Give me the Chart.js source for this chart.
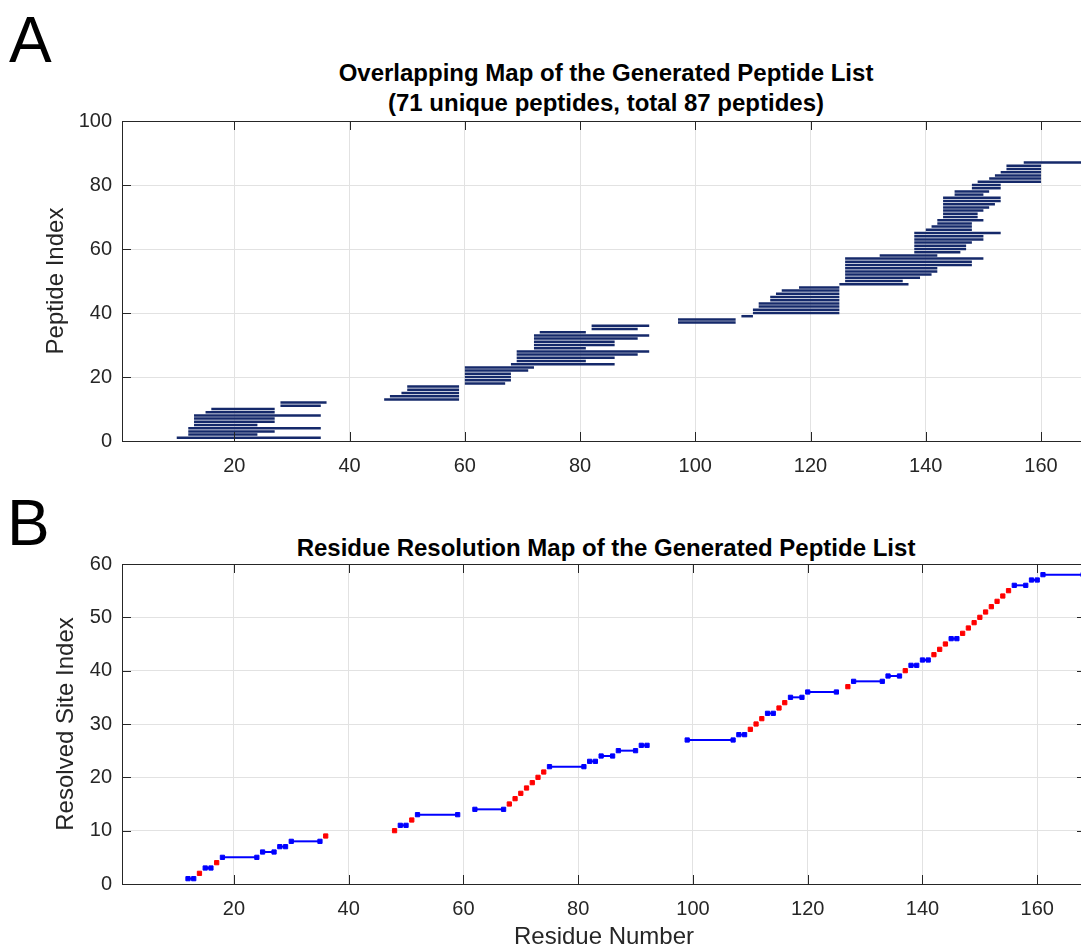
<!DOCTYPE html>
<html lang="en">
<head>
<meta charset="UTF-8">
<title>Peptide Overlap and Residue Resolution Maps</title>
<script src="https://cdn.jsdelivr.net/npm/chart.js"></script>
<style>
    body {
        margin: 0;
        background: #fff;
        overflow: hidden;
        font-family: "Liberation Sans", Arial, sans-serif;
    }
    #page {
        position: relative;
        width: 1081px;
        height: 949px;
        overflow: hidden;
    }
    .letter {
        position: absolute;
        font-size: 64px;
        line-height: 64px;
        color: #000;
    }
    .title {
        position: absolute;
        left: 122px;
        width: 968px;
        text-align: center;
        font-weight: bold;
        font-size: 24px;
        line-height: 30px;
        color: #000;
    }
    canvas {
        position: absolute;
        left: 0;
    }
</style>
</head>
<body>
<div id="page">
    <div class="letter" style="left:9px; top:8px;">A</div>
    <div class="title" style="top:58px;">Overlapping Map of the Generated Peptide List<br>(71 unique peptides, total 87 peptides)</div>
    <canvas id="chartA" width="1091" height="480" style="top:0;"></canvas>

    <div class="letter" style="left:7px; top:491px;">B</div>
    <div class="title" style="top:533px;">Residue Resolution Map of the Generated Peptide List</div>
    <canvas id="chartB" width="1091" height="472" style="top:480px;"></canvas>
</div>
<script>
    // peptide k (1-based) runs from pepStart[k-1] to pepEnd[k-1]
    const pepStart = [10, 12, 12, 12, 13, 13, 13, 13, 15, 16, 28, 28,
        46, 47, 49, 50, 50, 60, 60, 60, 60, 60, 60, 68, 69, 69, 69, 69,
        72, 72, 72, 72, 72, 73, 82, 82,
        97, 97, 108, 110, 110, 111, 111, 113, 113, 114, 115, 118,
        125, 126, 126, 126, 126, 126, 126, 126, 126, 132,
        138, 138, 138, 138, 138, 138, 138, 140, 141, 142, 142,
        143, 143, 143, 143, 143, 143, 143, 145, 145, 148, 148,
        149, 151, 152, 153, 154, 154, 157];
    const pepEnd = [35, 24, 27, 35, 24, 27, 27, 35, 27, 27, 35, 36,
        59, 59, 59, 59, 59, 67, 68, 68, 68, 71, 72, 86, 81, 86, 90, 92,
        81, 86, 86, 90, 92, 81, 90, 92,
        107, 107, 110, 125, 125, 125, 125, 125, 125, 125, 125, 125,
        137, 136, 139, 141, 142, 142, 148, 148, 150, 142,
        146, 147, 147, 148, 150, 150, 153, 148, 148, 148, 150,
        149, 149, 150, 151, 152, 153, 153, 150, 151, 153, 153,
        160, 160, 160, 160, 160, 160, 168];

    // resolved site j (1-based) covers residues siteStart..siteEnd
    const siteStart = [12, 14, 15, 17, 18, 25, 28, 30, 36, 48, 49, 51, 52, 62,
        68, 69, 70, 71, 72, 73, 74, 75, 82, 84, 87, 91,
        99, 108, 110, 111, 112, 113, 115, 116, 117, 120, 127, 128, 134, 137,
        138, 140, 142, 143, 144, 145, 147, 148, 149, 150, 151, 152, 153, 154, 155,
        156, 159, 161];
    const siteEnd = [13, 14, 16, 17, 24, 27, 29, 35, 36, 48, 50, 51, 59, 67,
        68, 69, 70, 71, 72, 73, 74, 81, 83, 86, 90, 92,
        107, 109, 110, 111, 112, 114, 115, 116, 119, 125, 127, 133, 136, 137,
        139, 141, 142, 143, 144, 146, 147, 148, 149, 150, 151, 152, 153, 154, 155,
        158, 160, 168];

    const xTicks = [20, 40, 60, 80, 100, 120, 140, 160];
    const yTicksA = [0, 20, 40, 60, 80, 100];
    const yTicksB = [0, 10, 20, 30, 40, 50, 60];

    const axisColor = '#262626';
    const gridColor = '#e2e2e2';
    const tickFont = { family: 'Liberation Sans', size: 20 };
    const labelFont = { family: 'Liberation Sans', size: 24 };

    // MATLAB-like box with inward tick marks on all four sides
    const boxTicks = {
        id: 'boxTicks',
        afterDraw(chart) {
            const { ctx, chartArea: a, scales } = chart;
            const len = 9;
            ctx.save();
            ctx.strokeStyle = axisColor;
            ctx.lineWidth = 1;
            ctx.beginPath();
            scales.x.ticks.forEach(t => {
                const px = Math.round(scales.x.getPixelForValue(t.value)) + 0.5;
                ctx.moveTo(px, a.bottom); ctx.lineTo(px, a.bottom - len);
                ctx.moveTo(px, a.top); ctx.lineTo(px, a.top + len);
            });
            scales.y.ticks.forEach(t => {
                const py = Math.round(scales.y.getPixelForValue(t.value)) + 0.5;
                ctx.moveTo(a.left, py); ctx.lineTo(a.left + len, py);
                ctx.moveTo(a.right, py); ctx.lineTo(a.right - len, py);
            });
            ctx.stroke();
            ctx.strokeRect(Math.round(a.left) + 0.5, Math.round(a.top) + 0.5,
                Math.round(a.right - a.left), Math.round(a.bottom - a.top));
            ctx.restore();
        }
    };

    function makeOptions(cfg) {
        return {
            responsive: false,
            animation: false,
            events: [],
            layout: { padding: { top: cfg.padTop, right: 1, left: 0, bottom: 0 } },
            plugins: { legend: { display: false }, tooltip: { enabled: false } },
            scales: {
                x: {
                    type: 'linear',
                    min: 0.5,
                    max: 168.5,
                    afterBuildTicks: s => { s.ticks = xTicks.map(v => ({ value: v })); },
                    afterFit: s => { s.height = cfg.xHeight; },
                    grid: { color: gridColor, drawTicks: false },
                    border: { display: false },
                    ticks: { color: axisColor, font: tickFont, padding: 13, maxRotation: 0 },
                    title: {
                        display: !!cfg.xTitle,
                        text: cfg.xTitle || '',
                        color: axisColor,
                        font: labelFont,
                        padding: { top: 0, bottom: 0 }
                    }
                },
                y: {
                    type: 'linear',
                    min: cfg.yTicks[0],
                    max: cfg.yTicks[cfg.yTicks.length - 1],
                    afterBuildTicks: s => { s.ticks = cfg.yTicks.map(v => ({ value: v })); },
                    afterFit: s => { s.width = 122; },
                    grid: { color: gridColor, drawTicks: false },
                    border: { display: false },
                    ticks: { color: axisColor, font: tickFont, padding: 10 },
                    title: {
                        display: true,
                        text: cfg.yTitle,
                        color: axisColor,
                        font: labelFont,
                        padding: { top: cfg.yTitlePad, bottom: 0 }
                    }
                }
            }
        };
    }

    const datasetsA = pepStart.map((s, i) => ({
        data: [{ x: s, y: i + 1 }, { x: pepEnd[i], y: i + 1 }],
        showLine: true,
        borderColor: '#15296a',
        borderWidth: 2.5,
        pointRadius: 0,
        clip: 0
    }));

    const datasetsB = siteStart.map((s, i) => {
        const single = s === siteEnd[i];
        const col = single ? '#ff0000' : '#0000ff';
        return {
            data: single ? [{ x: s, y: i + 1 }] : [{ x: s, y: i + 1 }, { x: siteEnd[i], y: i + 1 }],
            showLine: !single,
            borderColor: col,
            backgroundColor: col,
            borderWidth: 2,
            pointStyle: 'rect',
            pointRadius: 3,
            pointBorderWidth: 1,
            clip: 0
        };
    });

    new Chart(document.getElementById('chartA'), {
        type: 'scatter',
        data: { datasets: datasetsA },
        options: makeOptions({ padTop: 121, xHeight: 39, yTicks: yTicksA, yTitle: 'Peptide Index', yTitlePad: 42 }),
        plugins: [boxTicks]
    });

    new Chart(document.getElementById('chartB'), {
        type: 'scatter',
        data: { datasets: datasetsB },
        options: makeOptions({ padTop: 84, xHeight: 68, yTicks: yTicksB, yTitle: 'Resolved Site Index', yTitlePad: 52, xTitle: 'Residue Number' }),
        plugins: [boxTicks]
    });
</script>
</body>
</html>
